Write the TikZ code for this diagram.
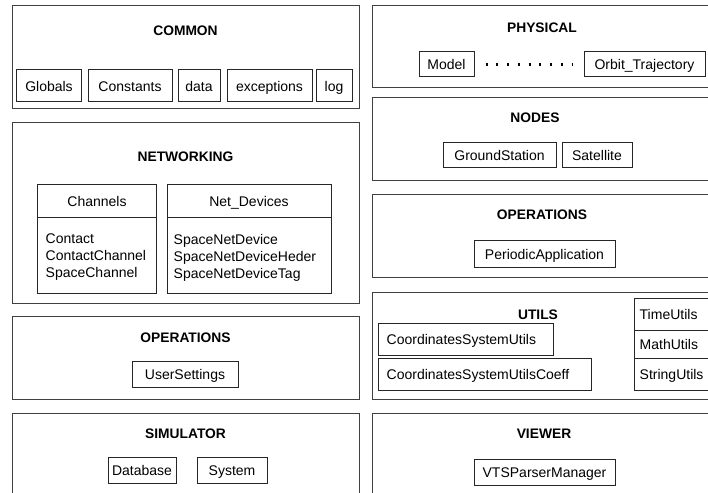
\documentclass[tikz,border=0pt]{standalone}
\usepackage{fontspec}
\setmainfont{Liberation Sans}
\usetikzlibrary{fit}
\begin{document}
\begin{tikzpicture}[x=1bp, y=-1bp,
  pkg/.style={draw=black!75, line width=1bp, inner sep=0pt},
  ttl/.style={inner sep=0pt, text height=10bp, text depth=0bp, font=\bfseries\fontsize{13.8bp}{16bp}\selectfont},
  cls/.style={draw=black!85, line width=1bp, inner sep=0pt, text height=11bp, text depth=0.5bp, font=\fontsize{14bp}{16bp}\selectfont},
  sz/.style 2 args={minimum width=#1bp, minimum height=#2bp},
  txt/.style={inner sep=0pt, font=\fontsize{14bp}{17bp}\selectfont, align=left},
  one/.style={txt, text height=11bp, text depth=0.5bp},
  dots/.style={line width=2.2bp, dash pattern=on 2.2bp off 8.55bp, shorten <=11bp, shorten >=11bp}]
\useasboundingbox (0,0) rectangle (708,493);
\clip (0,0) rectangle (708,493);

% ---------- left column ----------
% COMMON
\node[pkg, fit={(12,6) (359,109)}] (common) {};
\node[ttl] (commonT) at (185.5,31) {COMMON};
\node[cls, sz={64}{32}] (globals) at (49,86) {Globals};
\node[cls, sz={84}{32}] (constants) at (130,86) {Constants};
\node[cls, sz={42}{32}] (data) at (199,86) {data};
\node[cls, sz={85}{32}] (exceptions) at (269.5,86) {exceptions};
\node[cls, sz={36}{32}] (log) at (334,86) {log};

% NETWORKING
\node[pkg, fit={(12,123) (359,303)}] (networking) {};
\node[ttl] (networkingT) at (185.5,157) {NETWORKING};
\node[cls, sz={118}{33}] (chHead) at (97,201.5) {Channels};
\node[cls, sz={118}{75}] (chBody) at (97,255.5) {};
\node[txt, anchor=west] (chList) at ([xshift=8bp, yshift=-2bp]chBody.west) {Contact\\ContactChannel\\SpaceChannel};
\node[cls, sz={164}{33}] (ndHead) at (249,201.5) {Net\_Devices};
\node[cls, sz={164}{75}] (ndBody) at (249,255.5) {};
\node[txt, anchor=west] (ndList) at ([xshift=7bp, yshift=-2bp]ndBody.west) {SpaceNetDevice\\SpaceNetDeviceHeder\\SpaceNetDeviceTag};

% OPERATIONS (left)
\node[pkg, fit={(12,316) (359,399)}] (opsL) {};
\node[ttl] (opsLT) at (185.5,337) {OPERATIONS};
\node[cls, sz={106}{26}] (usersettings) at (185,374) {UserSettings};

% SIMULATOR
\node[pkg, fit={(12,413) (359,510)}] (simulator) {};
\node[ttl] (simulatorT) at (185.5,433) {SIMULATOR};
\node[cls, sz={68}{26}] (database) at (142,470) {Database};
\node[cls, sz={70}{26}] (system) at (232,470) {System};

% ---------- right column ----------
% PHYSICAL
\node[pkg, fit={(372,6) (720,88)}] (physical) {};
\node[ttl] (physicalT) at (542,28) {PHYSICAL};
\node[cls, sz={55}{25}] (model) at (446.5,64.5) {Model};
\node[cls, sz={121}{25}] (orbit) at (644.5,64.5) {Orbit\_Trajectory};
\draw[dots] (model) -- (orbit);

% NODES
\node[pkg, fit={(372,98) (720,181)}] (nodes) {};
\node[ttl] (nodesT) at (535,118) {NODES};
\node[cls, sz={113}{25}] (ground) at (499.5,155.5) {GroundStation};
\node[cls, sz={70}{25}] (satellite) at (597,155.5) {Satellite};

% OPERATIONS (right)
\node[pkg, fit={(372,195) (720,277)}] (opsR) {};
\node[ttl] (opsRT) at (542,215) {OPERATIONS};
\node[cls, sz={141}{26}] (periodic) at (544.5,254) {PeriodicApplication};

% UTILS
\node[pkg, fit={(372,292) (720,399)}] (utils) {};
\node[ttl] (utilsT) at (538,314) {UTILS};
\node[cls, sz={175}{32}] (csu) at (465.5,339) {};
\node[one, anchor=west] (csuT) at ([xshift=9bp]csu.west) {CoordinatesSystemUtils};
\node[cls, sz={213}{32}] (csuc) at (484.5,374) {};
\node[one, anchor=west] (csucT) at ([xshift=9bp]csuc.west) {CoordinatesSystemUtilsCoeff};
\node[cls, sz={86}{32}] (time) at (677,314) {};
\node[one, anchor=west] (timeT) at ([xshift=6bp]time.west) {TimeUtils};
\node[cls, sz={86}{28}] (math) at (677,344) {};
\node[one, anchor=west] (mathT) at ([xshift=6bp]math.west) {MathUtils};
\node[cls, sz={86}{32}] (string) at (677,374) {};
\node[one, anchor=west] (stringT) at ([xshift=6bp]string.west) {StringUtils};

% VIEWER
\node[pkg, fit={(372,413) (720,510)}] (viewer) {};
\node[ttl] (viewerT) at (544,433) {VIEWER};
\node[cls, sz={141}{26}] (vts) at (544.5,472) {VTSParserManager};
\end{tikzpicture}
\end{document}
